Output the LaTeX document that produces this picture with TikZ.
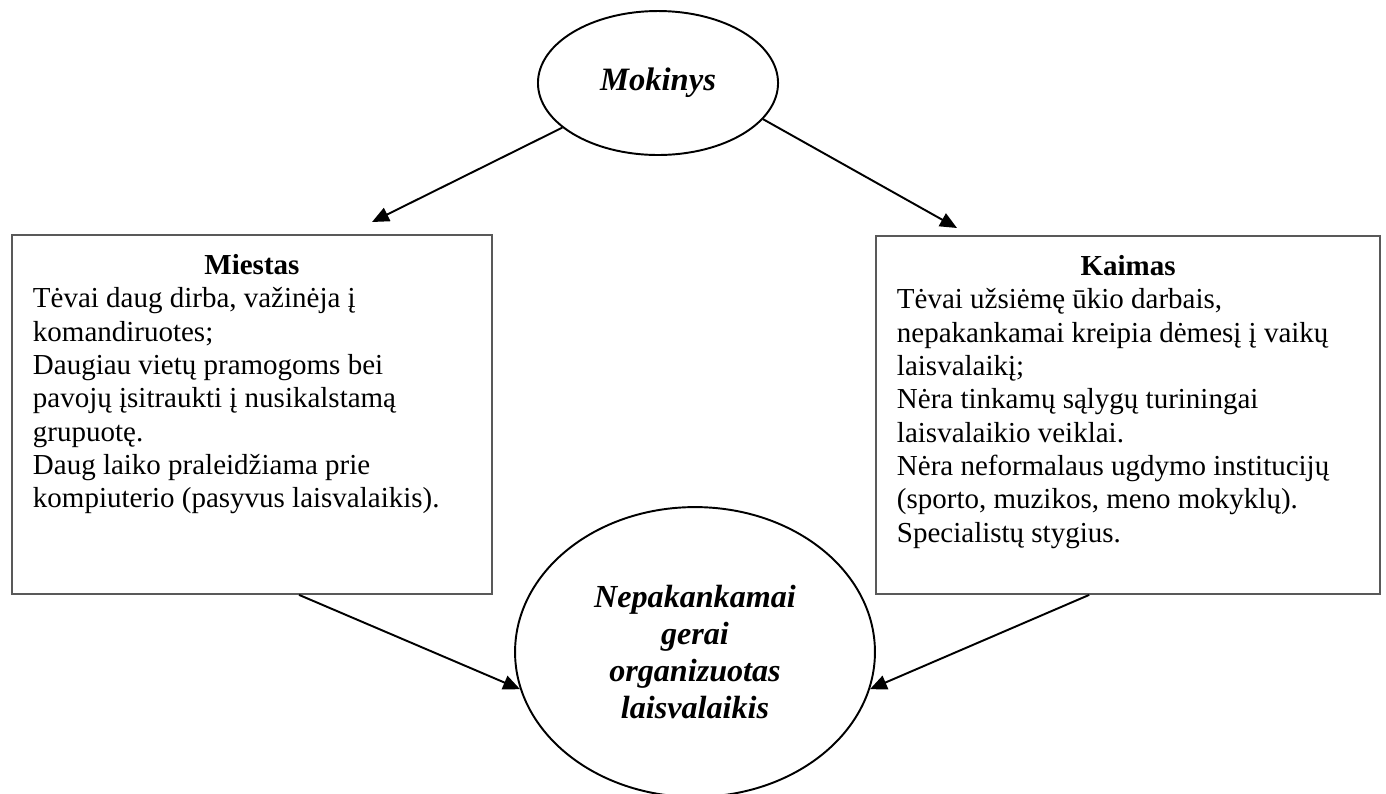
\documentclass[tikz,border=0pt]{standalone}
\usepackage{fontspec}
\setmainfont{Liberation Serif}
\usetikzlibrary{shapes.geometric,arrows.meta,positioning,calc}

\begin{document}
\begin{tikzpicture}
[x=0.414pt,y=-0.414pt,
every node/.style={inner sep=0pt},
oval/.style={shape=ellipse,draw,line width=0.8pt},
infobox/.style={shape=rectangle,draw=black!65,line width=0.8pt,anchor=north west,
  inner xsep=8.7pt,inner ysep=8pt,font=\fontsize{12}{13.8}\selectfont},
myedge/.style={-{Triangle[length=7pt,width=6pt]},line width=0.8pt}]
%%%%%%%%%%
\useasboundingbox (0,0) rectangle (1386,793);
%% vertices
\node (mok) [oval,minimum width=99.4pt,minimum height=59.6pt,
  font=\bfseries\itshape\fontsize{13.5}{16}\selectfont] at (658,83) {Mokinys};
\node (miestas) [infobox] at (11,234) {\parbox[t][132.6pt][t]{181.3pt}{%
  \centering\textbf{Miestas}\par
  \raggedright
  Tėvai daug dirba, važinėja į\\
  komandiruotes;\\
  Daugiau vietų pramogoms bei\\
  pavojų įsitraukti į nusikalstamą\\
  grupuotę.\\
  Daug laiko praleidžiama prie\\
  kompiuterio (pasyvus laisvalaikis).}};
\node (kaimas) [infobox] at (875,235) {\parbox[t][132.2pt][t]{191.3pt}{%
  \centering\textbf{Kaimas}\par
  \raggedright
  Tėvai užsiėmę ūkio darbais,\\
  nepakankamai kreipia dėmesį į vaikų\\
  laisvalaikį;\\
  Nėra tinkamų sąlygų turiningai\\
  laisvalaikio veiklai.\\
  Nėra neformalaus ugdymo institucijų\\
  (sporto, muzikos, meno mokyklų).\\
  Specialistų stygius.}};
\node (laisv) [oval,minimum width=149pt,minimum height=120pt,align=center,
  font=\bfseries\itshape\fontsize{13.3}{15.4}\selectfont] at (695,652)
  {Nepakankamai\\gerai\\organizuotas\\laisvalaikis};
%% arrow tips
\coordinate (mtip) at (372,222);
\coordinate (ktip) at (957,228);
%% edges
\draw[myedge] (mok.205) -- (mtip);
\draw[myedge] (mok.341) -- (ktip);
\draw[myedge] ([xshift=19.5pt]miestas.south) -- (laisv.192);
\draw[myedge] ([xshift=-16.1pt]kaimas.south) -- (laisv.348);
\end{tikzpicture}
\end{document}
